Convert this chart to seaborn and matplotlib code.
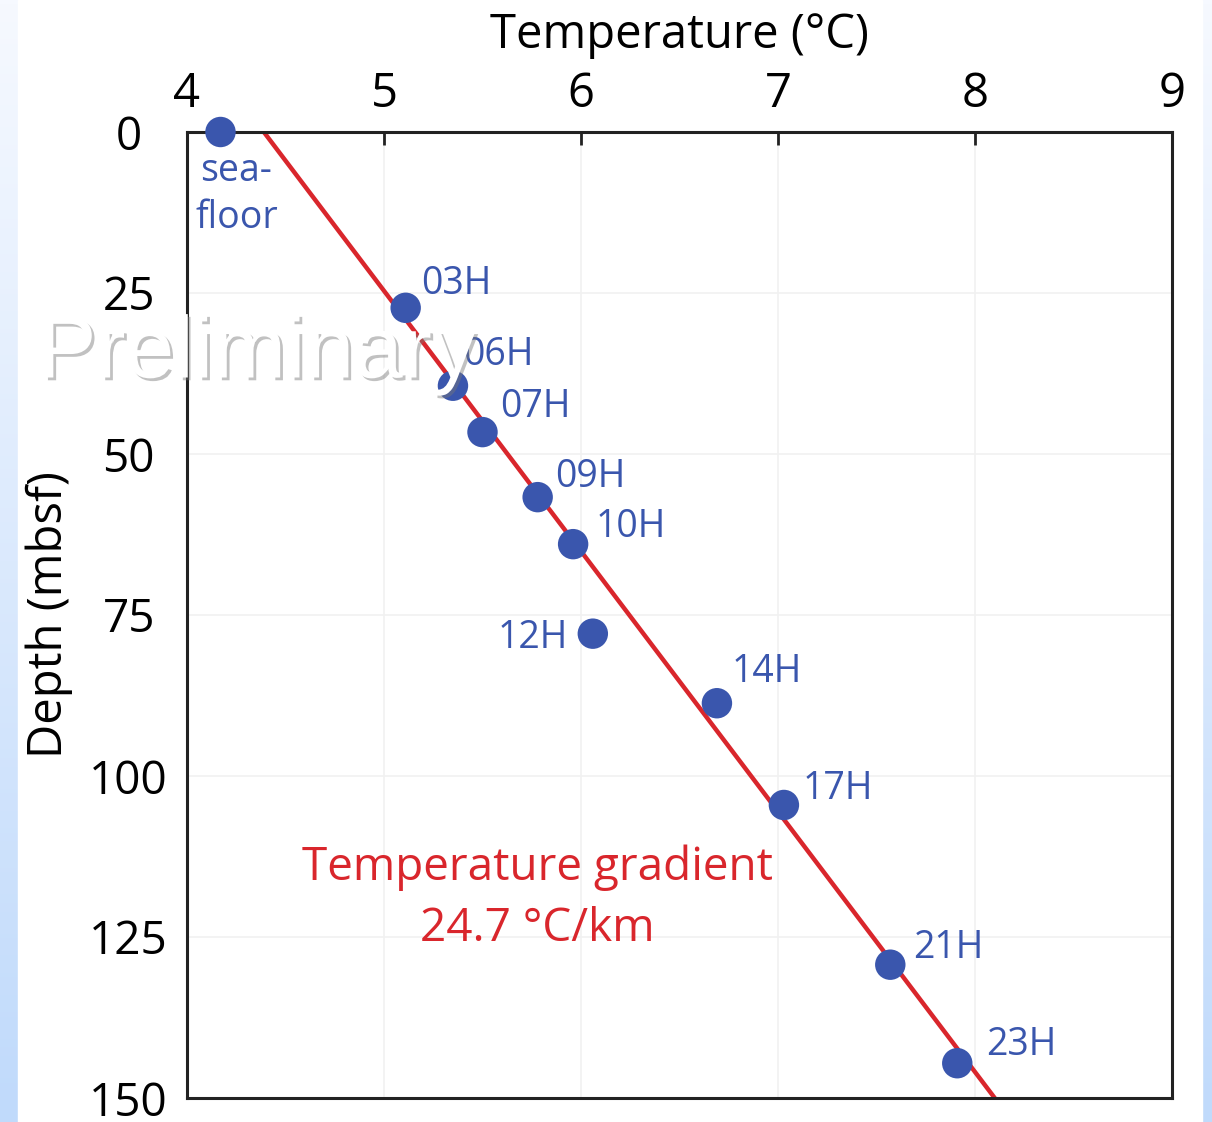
import numpy as np
import pandas as pd
import matplotlib.pyplot as plt
import matplotlib.patheffects as pe
from matplotlib.patches import Rectangle
import seaborn as sns

# measured temperatures per core
cores = ["sea-\nfloor", "03H", "06H", "07H", "09H", "10H", "12H", "14H", "17H", "21H", "23H"]
temp_c = [4.17, 5.11, 5.35, 5.50, 5.78, 5.96, 6.06, 6.69, 7.03, 7.57, 7.91]
depth_m = [0.0, 27.3, 39.4, 46.6, 56.7, 64.0, 77.9, 88.7, 104.5, 129.3, 144.6]

# fitted gradient line (24.7 C/km)
fit_depth = [0.0, 150.0]
fit_temp = [4.39, 8.10]

x_ticks = [4, 5, 6, 7, 8, 9]
y_ticks = [0, 25, 50, 75, 100, 125, 150]

df = pd.DataFrame({"core": cores, "temp": temp_c, "depth": depth_m})
fit = pd.DataFrame({"temp": fit_temp, "depth": fit_depth})

# label offsets in pixels (dx, dy, ha, va)
offsets = {
    "sea-\nfloor": (16, -20, "center", "top"),
    "03H": (15, 24, "left", "center"),
    "06H": (10, 31, "left", "center"),
    "07H": (18, 25, "left", "center"),
    "09H": (17, 20, "left", "center"),
    "10H": (22, 17, "left", "center"),
    "12H": (-25, -4, "right", "center"),
    "14H": (15, 31, "left", "center"),
    "17H": (19, 16, "left", "center"),
    "21H": (23, 17, "left", "center"),
    "23H": (29, 18, "left", "center"),
}

sns.set_style("white")
plt.rcParams["font.family"] = ["Open Sans", "DejaVu Sans"]
plt.rcParams["text.color"] = "black"
plt.rcParams["axes.labelcolor"] = "black"

blue = "#3a56ad"
red = "#d9262c"

fig = plt.figure(figsize=(12.12, 11.22), dpi=100)

# light blue framed background
bg = fig.add_axes([0, 0, 1, 1], zorder=-5)
grad = np.linspace(0, 1, 256).reshape(-1, 1)
bg.imshow(grad, aspect="auto", extent=[0, 1, 0, 1], origin="upper",
          cmap=sns.blend_palette(["#f6f9ff", "#c0dafb"], as_cmap=True))
bg.add_patch(Rectangle((18 / 1212, 0), (1202 - 18) / 1212, 1, color="white"))
bg.set_xlim(0, 1)
bg.set_ylim(0, 1)
bg.axis("off")

ax = fig.add_axes([187 / 1212, 1 - 1098 / 1122, (1172 - 187) / 1212, (1098 - 132) / 1122])
ax.set_facecolor("none")

sns.lineplot(data=fit, x="temp", y="depth", ax=ax, color=red, lw=3.2, sort=False, zorder=2)
sns.scatterplot(data=df, x="temp", y="depth", ax=ax, color=blue, s=480,
                edgecolor="none", zorder=3, clip_on=False)

for _, r in df.iterrows():
    dx, dy, ha, va = offsets[r["core"]]
    ax.annotate(r["core"], (r["temp"], r["depth"]), xytext=(dx, dy),
                textcoords="offset pixels", ha=ha, va=va, color=blue,
                fontsize=27, linespacing=1.3)

ax.text(5.78, 119, "Temperature gradient\n24.7 \u00b0C/km", color=red, fontsize=33,
        ha="center", va="center", linespacing=1.45)

ax.set_xlim(4, 9)
ax.set_ylim(150, 0)
ax.set_xticks(x_ticks)
ax.set_yticks(y_ticks)
ax.xaxis.set_ticks_position("top")
ax.xaxis.set_label_position("top")
ax.tick_params(axis="both", direction="in", length=9, width=2, labelsize=34,
               color="#222222", labelcolor="black", pad=10)
ax.tick_params(axis="y", labelsize=33, pad=42)
for lbl in ax.get_yticklabels():
    lbl.set_horizontalalignment("center")
ax.grid(True, color="#f1f1f1", lw=1.2)
for sp in ax.spines.values():
    sp.set_color("#222222")
    sp.set_linewidth(2.2)

ax.set_xlabel("Temperature (\u00b0C)", fontsize=34, labelpad=16)
ax.set_ylabel("Depth (mbsf)", fontsize=34, labelpad=12)

fig.text(38 / 1212, 1 - 355 / 1122, "Preliminary", color="white", fontsize=63,
         family="Liberation Sans", va="center", ha="left", zorder=10,
         path_effects=[pe.withSimplePatchShadow(offset=(2, -2), shadow_rgbFace="#777777", alpha=0.45)])

fig.savefig("out.png", dpi=100)
